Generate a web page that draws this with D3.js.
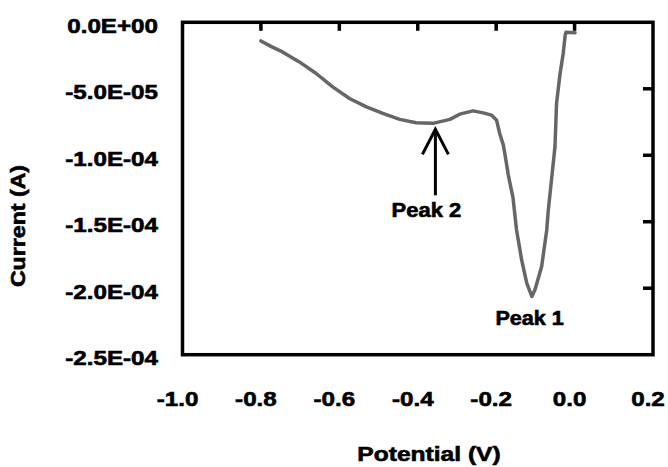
<!DOCTYPE html>
<html>
<head>
<meta charset="utf-8">
<script src="https://cdn.jsdelivr.net/npm/d3@7/dist/d3.min.js"></script>
<style>
  html, body { margin: 0; padding: 0; background: #fff; }
  text { font-family: "Liberation Sans", Arial, Helvetica, sans-serif; font-weight: bold; fill: #000; stroke: #000; stroke-width: 0.6px; }
</style>
</head>
<body>
<svg id="chart" width="668" height="467"></svg>
<script>
// Potential (V)
const potential = [-0.800, -0.772, -0.745, -0.702, -0.659, -0.617, -0.574, -0.531, -0.489, -0.446, -0.404,
  -0.361, -0.318, -0.293, -0.259, -0.233, -0.212, -0.199, -0.191, -0.182, -0.178,
  -0.169, -0.157, -0.148, -0.135, -0.122, -0.109, -0.101, -0.084, -0.071, -0.067,
  -0.058, -0.050, -0.046, -0.037, -0.029, -0.024, -0.022, 0.001];
// Current (A)
const current = [-1.40e-5, -1.85e-5, -2.23e-5, -2.98e-5, -3.85e-5, -4.86e-5, -5.73e-5, -6.36e-5, -6.85e-5, -7.30e-5, -7.56e-5,
  -7.60e-5, -7.30e-5, -6.91e-5, -6.66e-5, -6.81e-5, -6.98e-5, -7.36e-5, -8.36e-5, -9.20e-5, -9.86e-5,
  -1.149e-4, -1.321e-4, -1.562e-4, -1.787e-4, -1.962e-4, -2.062e-4, -2.012e-4, -1.837e-4, -1.562e-4, -1.411e-4,
  -1.161e-4, -9.36e-5, -6.10e-5, -3.85e-5, -2.35e-5, -9.8e-6, -7.5e-6, -7.9e-6];

const xTicks = [-1.0, -0.8, -0.6, -0.4, -0.2, 0.0, 0.2];
const xTickLabels = ["-1.0", "-0.8", "-0.6", "-0.4", "-0.2", "0.0", "0.2"];
const yTicks = [0, -5e-5, -1e-4, -1.5e-4, -2e-4, -2.5e-4];
const yTickLabels = ["0.0E+00", "-5.0E-05", "-1.0E-04", "-1.5E-04", "-2.0E-04", "-2.5E-04"];

const annotations = [
  { label: "Peak 2", v: -0.355, i: -7.9e-5 },
  { label: "Peak 1", v: -0.107, i: -2.06e-4 }
];

const svg = d3.select("#chart");
const x = d3.scaleLinear().domain([-1.0, 0.2]).range([182.5, 653]);
const y = d3.scaleLinear().domain([0, -2.5e-4]).range([22.3, 354.7]);

// frame
svg.append("rect")
  .attr("x", x(-1.0)).attr("y", y(0))
  .attr("width", x(0.2) - x(-1.0)).attr("height", y(-2.5e-4) - y(0))
  .attr("fill", "none").attr("stroke", "#000").attr("stroke-width", 3.5);

// tick marks on top (inward) and right (inward)
svg.append("g").selectAll("line").data(xTicks.slice(1, -1)).join("line")
  .attr("x1", d => x(d)).attr("x2", d => x(d))
  .attr("y1", y(0)).attr("y2", y(0) + 8.5)
  .attr("stroke", "#000").attr("stroke-width", 3.5);
svg.append("g").selectAll("line").data(yTicks.slice(1, -1)).join("line")
  .attr("x1", x(0.2)).attr("x2", x(0.2) - 10)
  .attr("y1", d => y(d)).attr("y2", d => y(d))
  .attr("stroke", "#000").attr("stroke-width", 3.5);

function stretchedText(parent, tx, ty, txt, size, sx, anchor, rot) {
  const g = parent.append("g").attr("transform", `translate(${tx},${ty})` + (rot ? ` rotate(${rot})` : "") + ` scale(${sx},1)`);
  g.append("text").attr("x", 0).attr("y", 0).attr("text-anchor", anchor)
    .style("font-size", size + "px").text(txt);
  return g;
}

// y tick labels (left)
yTicks.forEach((t, k) => {
  stretchedText(svg, 158, y(t) + 10.5, yTickLabels[k], 20.5, 1.18, "end");
});
// x tick labels (bottom)
xTicks.forEach((t, k) => {
  stretchedText(svg, x(t) - 5, 406, xTickLabels[k], 20.5, 1.18, "middle");
});

// axis titles
stretchedText(svg, 429, 461, "Potential (V)", 20.5, 1.2, "middle");
stretchedText(svg, 25, 226, "Current (A)", 20.5, 1.13, "middle", -90);

// curve
const pts = potential.map((v, k) => [v, current[k]]);
svg.append("path").datum(pts)
  .attr("d", d3.line().x(d => x(d[0])).y(d => y(d[1])))
  .attr("fill", "none").attr("stroke", "#666").attr("stroke-width", 3.5)
  .attr("stroke-linejoin", "round").attr("stroke-linecap", "round");

// annotations
const a2 = annotations[0];
const ax = x(a2.v);
const tipY = y(a2.i) + 2;
svg.append("line").attr("x1", ax).attr("x2", ax).attr("y1", tipY).attr("y2", tipY + 66)
  .attr("stroke", "#000").attr("stroke-width", 3);
svg.append("path").attr("d", `M${ax - 13},${tipY + 25}L${ax},${tipY}L${ax + 13},${tipY + 25}`)
  .attr("fill", "none").attr("stroke", "#000").attr("stroke-width", 3);
stretchedText(svg, ax - 9, 216.5, a2.label, 20, 1.1, "middle");

const a1 = annotations[1];
stretchedText(svg, x(a1.v) - 3, 325, a1.label, 20, 1.08, "middle");
</script>
</body>
</html>
